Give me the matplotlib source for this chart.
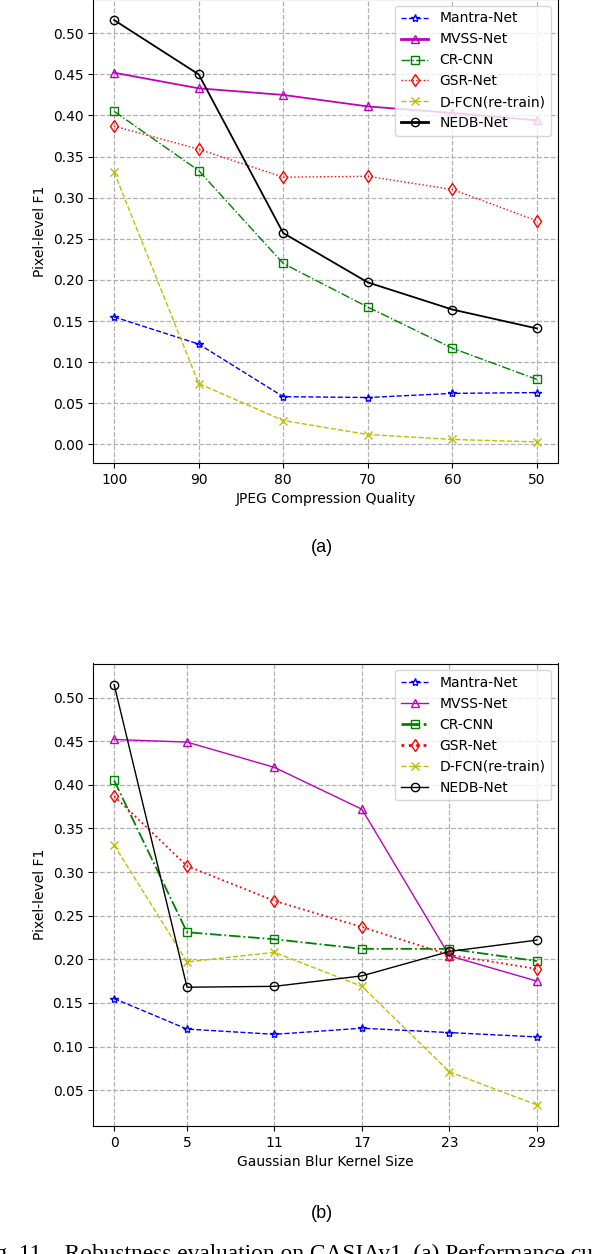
import matplotlib
matplotlib.use("Agg")
import matplotlib.pyplot as plt
from matplotlib.ticker import MultipleLocator, FormatStrFormatter

# JPEG compression robustness (panel a)
jpeg_quality = [100, 90, 80, 70, 60, 50]
jpeg_mantra = [0.155, 0.122, 0.058, 0.057, 0.062, 0.063]
jpeg_mvss = [0.452, 0.433, 0.425, 0.411, 0.403, 0.394]
jpeg_crcnn = [0.405, 0.333, 0.220, 0.167, 0.117, 0.079]
jpeg_gsr = [0.387, 0.359, 0.325, 0.326, 0.310, 0.272]
jpeg_dfcn = [0.331, 0.074, 0.029, 0.012, 0.006, 0.003]
jpeg_nedb = [0.516, 0.450, 0.257, 0.197, 0.164, 0.141]

# Gaussian blur robustness (panel b)
blur_kernel = [0, 5, 11, 17, 23, 29]
blur_mantra = [0.155, 0.120, 0.114, 0.121, 0.116, 0.111]
blur_mvss = [0.452, 0.449, 0.420, 0.372, 0.204, 0.175]
blur_crcnn = [0.405, 0.231, 0.223, 0.212, 0.212, 0.198]
blur_gsr = [0.387, 0.307, 0.267, 0.237, 0.205, 0.189]
blur_dfcn = [0.331, 0.197, 0.208, 0.169, 0.071, 0.033]
blur_nedb = [0.515, 0.168, 0.169, 0.181, 0.209, 0.222]

labels = ["Mantra-Net", "MVSS-Net", "CR-CNN", "GSR-Net", "D-FCN(re-train)", "NEDB-Net"]
styles = ["b*--", "m^-", "gs-.", "rd:", "yx--", "ko-"]

W, H = 592, 1254
fig = plt.figure(figsize=(W / 100, H / 100), dpi=100)


def draw_panel(ax, x, series, thick, xlabel):
    for y, fmt, lab in zip(series, styles, labels):
        lw = 1.3 if lab in thick else 1.0
        ax.plot(x, y, fmt, label=lab, lw=lw, markersize=6,
                markerfacecolor="none", markeredgewidth=1.0)
    ax.grid(True, linestyle="--", color="#b0b0b0", linewidth=0.9)
    ax.set_xticks(x)
    ax.set_xticklabels([str(v) for v in x])
    ax.yaxis.set_major_locator(MultipleLocator(0.05))
    ax.yaxis.set_major_formatter(FormatStrFormatter("%.2f"))
    ax.set_ylabel("Pixel-level F1", fontsize=10)
    ax.set_xlabel(xlabel, fontsize=10)
    ax.tick_params(labelsize=10)
    leg = ax.legend(loc="upper right", fontsize=10)
    for line in leg.get_lines():
        if line.get_label() in thick:
            line.set_linewidth(2.0)


ax_a = fig.add_axes([93 / W, 1 - 463 / H, 465 / W, 464 / H])
draw_panel(ax_a, jpeg_quality,
           [jpeg_mantra, jpeg_mvss, jpeg_crcnn, jpeg_gsr, jpeg_dfcn, jpeg_nedb],
           ["MVSS-Net", "NEDB-Net"], "JPEG Compression Quality")
ax_a.invert_xaxis()

ax_b = fig.add_axes([93 / W, 1 - 1126 / H, 465 / W, 462.5 / H])
draw_panel(ax_b, blur_kernel,
           [blur_mantra, blur_mvss, blur_crcnn, blur_gsr, blur_dfcn, blur_nedb],
           ["CR-CNN", "GSR-Net"], "Gaussian Blur Kernel Size")

fig.text(322 / W, 1 - 548 / H, "(a)", ha="center", va="center",
         fontsize=13, family="Liberation Sans")
fig.text(322 / W, 1 - 1213 / H, "(b)", ha="center", va="center",
         fontsize=13, family="Liberation Sans")
# caption of the paper page, clipped by the crop like in the source
fig.text(-24 / W, 1 - 1244 / H,
         "Fig. 11.   Robustness evaluation on CASIAv1. (a) Performance curves",
         ha="left", va="top", fontsize=16.8, family="Liberation Serif")

fig.savefig("out.png", dpi=100)
